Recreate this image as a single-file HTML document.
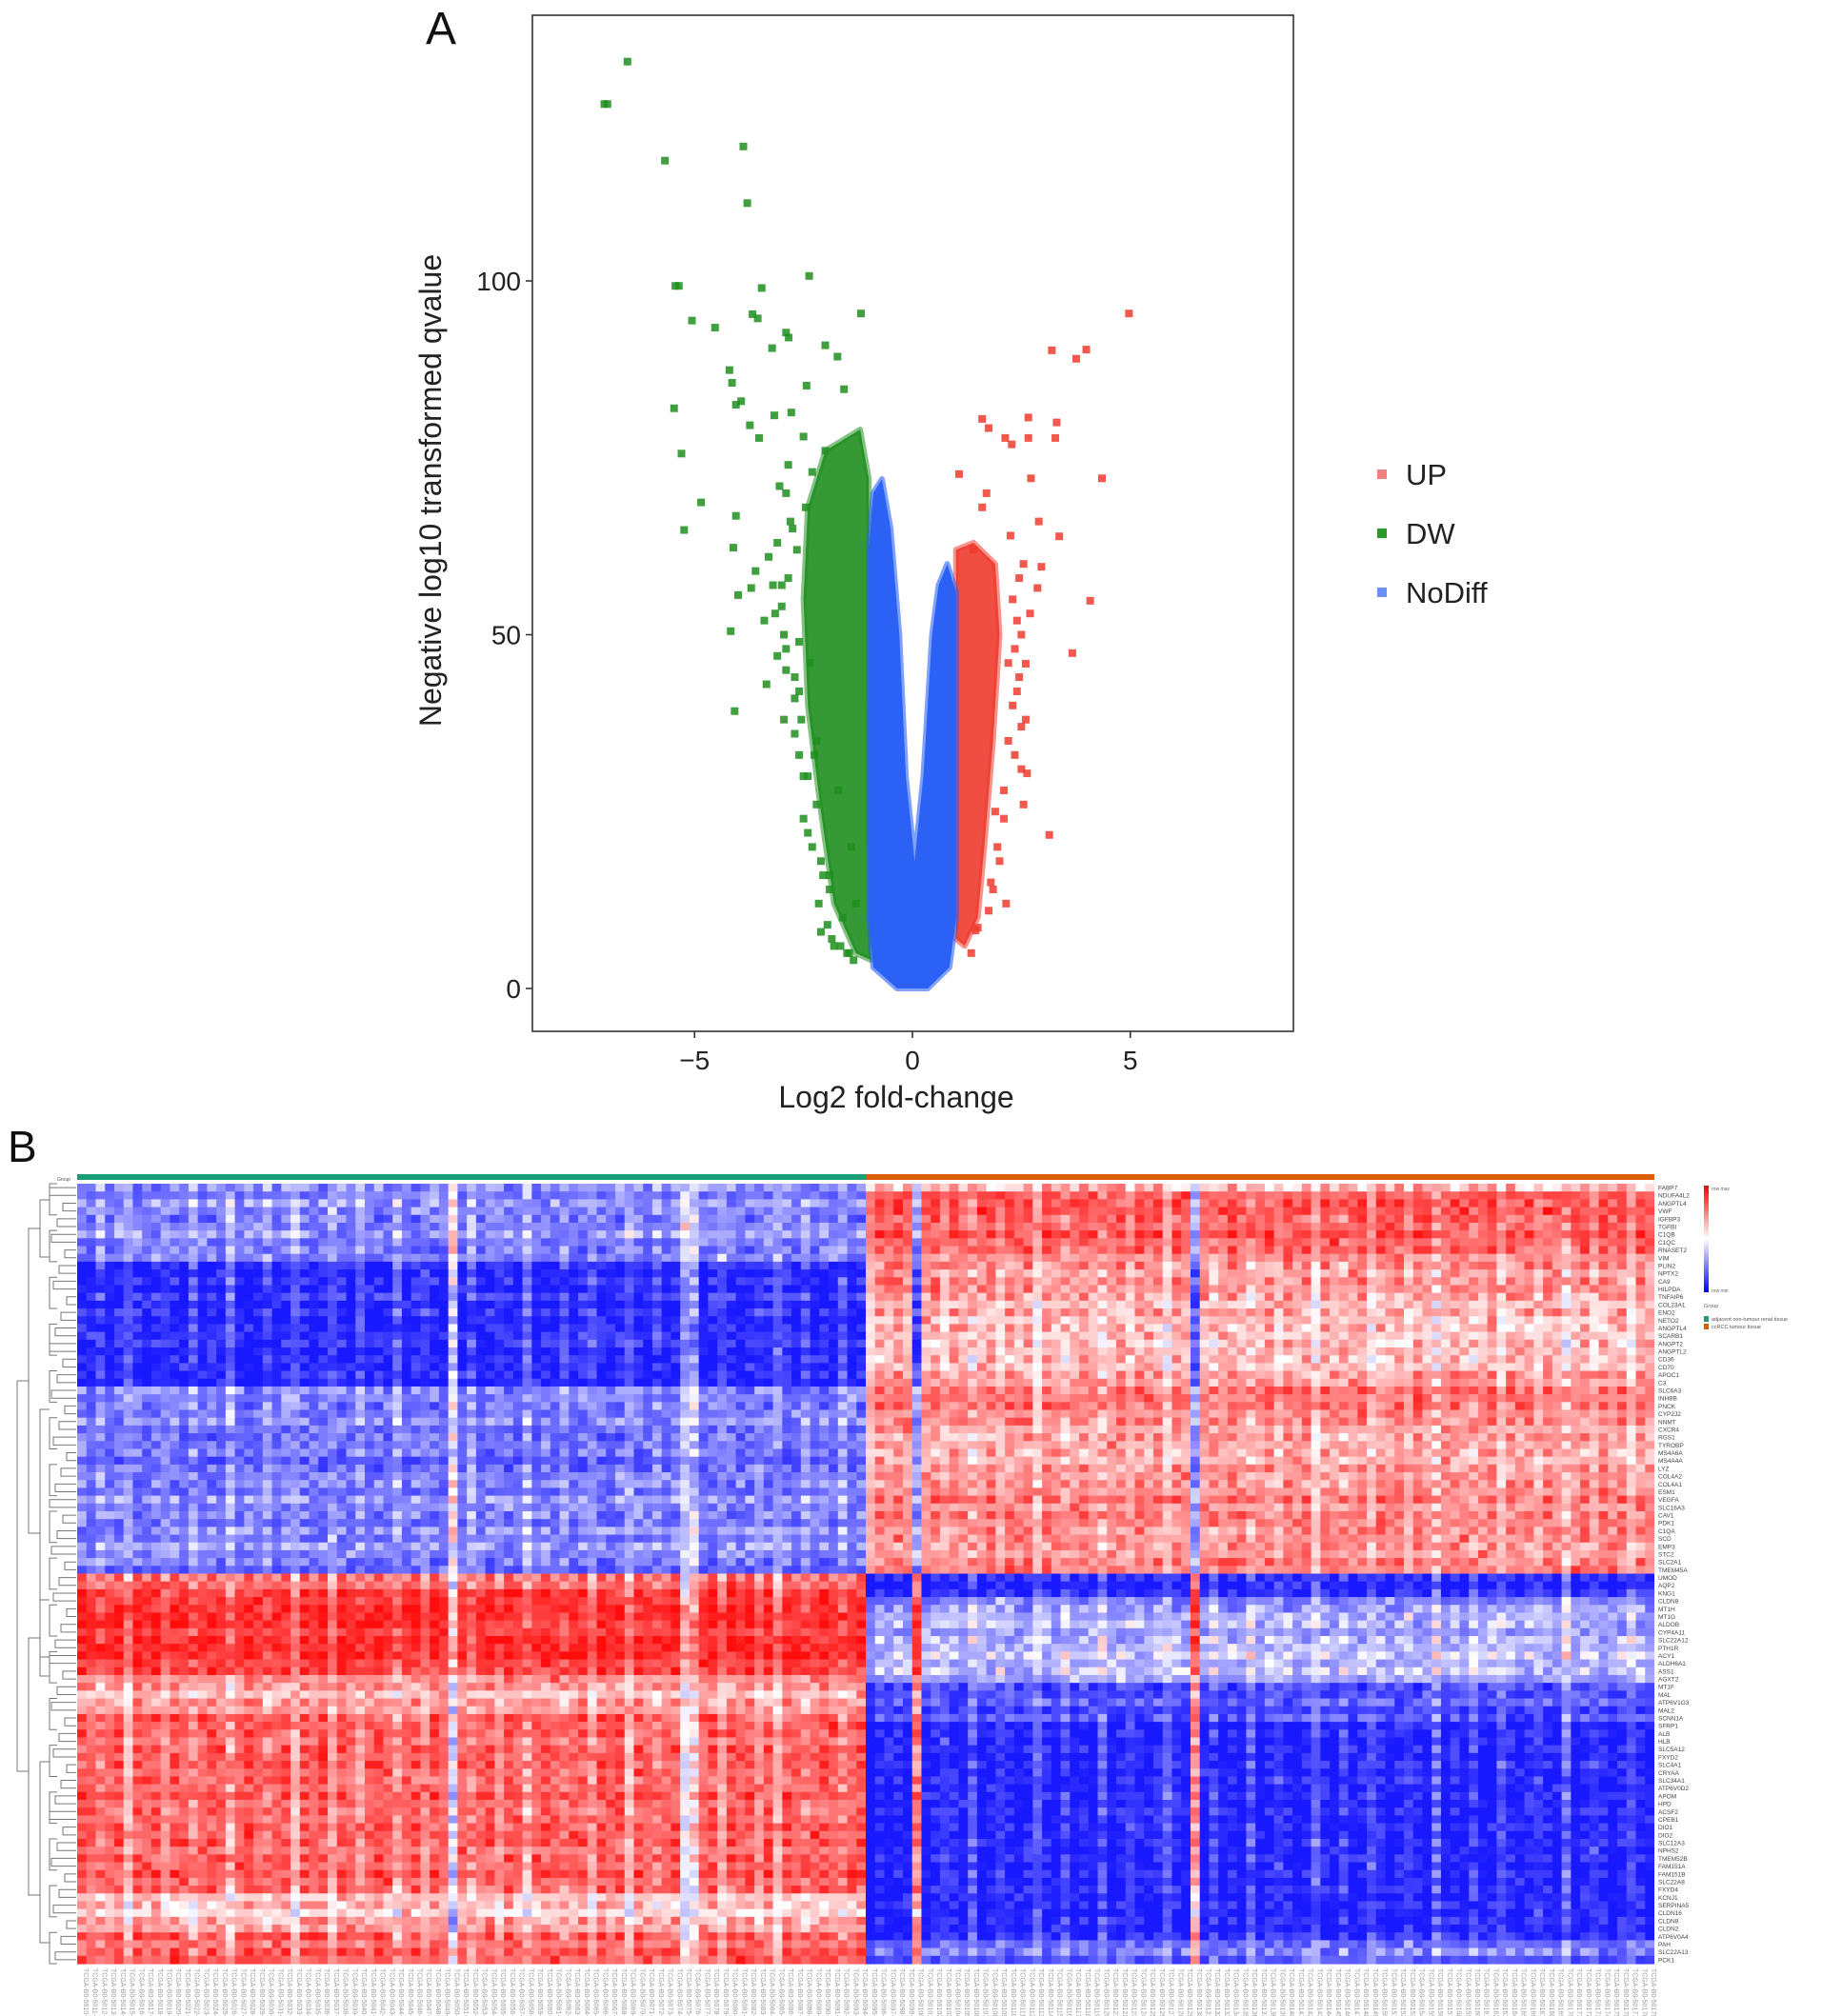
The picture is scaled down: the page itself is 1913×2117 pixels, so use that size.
<!DOCTYPE html>
<html><head><meta charset="utf-8">
<style>
html,body{margin:0;padding:0;background:#fff;}
svg{display:block;font-family:"Liberation Sans",Arial,sans-serif;}
</style></head>
<body>
<svg id="fig" width="1913" height="2117" viewBox="0 0 1913 2117" xmlns="http://www.w3.org/2000/svg">
<g id="volcano"></g>
<g id="heat"></g>
</svg>
<script>
// ===== Volcano data =====
const dwX = [-6.54,-7.07,-7.0,-5.68,-3.88,-3.79,-5.44,-5.36,-3.46,-2.37,-5.06,-4.53,-3.67,-3.55,-2.9,-2.84,-1.18,-5.47,-5.3,-4.85,-5.24,-4.2,-4.14,-4.05,-3.93,-3.22,-2.0,-1.72,-2.43,-1.57,-3.73,-3.17,-4.11,-4.0,-4.05,-4.08,-3.7,-3.52,-4.17,-2.78,-3.4,-3.1,-2.7,-2.95,-3.3,-2.6,-3.0,-2.5,-2.75,-2.2,-2.4,-2.9,-2.1,-1.9,-2.3,-1.6,-2.1,-1.8,-1.5,-1.4,-2.6,-2.2,-1.7,-1.3,-1.9,-3.35,-3.6,-2.85,
-2.9,-3.0,-2.7,-3.1,-2.85,-2.95,-2.6,-2.4,-2.5,-2.3,-2.55,-2.35,-2.15,-2.05,-1.95,-2.65,-2.45,-3.05,-2.8,-3.2,-2.7,-2.25,-1.85,-1.65,-1.45,-1.35,-2.0,-2.5,-3.15,-2.9];
const dwY = [131,125,125,117,119,111,99.3,99.3,99,100.7,94.4,93.4,95.3,94.7,92.7,92,95.4,82,75.6,68.7,64.8,87.4,85.6,82.5,83,90.5,90.9,89.3,85.2,84.7,79.6,81,62.3,55.6,66.8,39.2,56.6,77.8,50.5,81.4,52,47,44,38,61,33,57,30,65,26,22,70,18,14,73,10,8,6,5,20,49,35,28,12,16,43,59,74,
45,54,36,63,58,50,42,30,24,20,38,46,12,16,9,62,68,71,66,57,41,33,7,6,5,4,76,78,53,48];
const upX = [4.97,3.99,3.2,3.76,2.66,3.31,3.28,4.35,3.37,3.67,4.08,3.14,1.6,1.75,2.13,2.28,2.72,1.07,2.66,2.96,2.87,2.6,2.63,2.5,1.45,1.5,2.9,2.4,2.3,2.55,2.2,2.45,1.9,2.1,2.35,1.8,1.7,1.6,2.0,1.35,2.15,2.5,1.4,
2.3,2.5,2.4,2.2,2.6,2.7,2.35,2.1,1.95,2.45,2.55,1.85,1.75,2.25];
const upY = [95.4,90.3,90.2,89,80.7,80,77.8,72.1,63.9,47.4,54.8,21.7,80.5,79.2,77.8,76.9,72.1,72.7,77.8,59.6,56.6,45.9,30.4,31,8.2,8.6,66,52,40,60,35,44,25,28,48,15,70,68,18,5,12,37,62,
55,50,42,46,38,53,33,24,20,58,26,14,11,64];
const greenEnvX = [-0.95,-1.3,-1.8,-2.1,-2.4,-2.5,-2.4,-2.0,-1.2,-1.0];
const greenEnvY = [4,5,12,25,40,55,68,76,79,72];
const redEnvX = [1.0,1.2,1.5,1.65,1.85,2.0,1.9,1.4,1.0];
const redEnvY = [7,6,10,20,35,50,60,63,62];
const blueEnvX = [-0.35,-0.9,-1.0,-1.0,-1.0,-0.9,-0.7,-0.5,-0.3,-0.15,0.05,0.25,0.45,0.6,0.8,1.0,1.0,1.0,0.85,0.35];
const blueEnvY = [0,3,10,40,62,70,72,65,50,30,18,30,50,57,60,56,30,10,3,0];
const xTicks = [-5,0,5];
const yTicks = [0,50,100];
const legendLabels = ["UP","DW","NoDiff"];

// ===== Heatmap data =====
const geneNames = ["FABP7","NDUFA4L2","ANGPTL4","VWF","IGFBP3","TGFBI","C1QB","C1QC","RNASET2","VIM","PLIN2","NPTX2","CA9","HILPDA","TNFAIP6","COL23A1","ENO2","NETO2","ANGPTL4","SCARB1","ANGPT2","ANGPTL2","CD36","CD70","APOC1","C3","SLC6A3","INHBB","PNCK","CYP2J2","NNMT","CXCR4","RGS1","TYROBP","MS4A6A","MS4A4A","LYZ","COL4A2","COL4A1","ESM1","VEGFA","SLC16A3","CAV1","PDK1","C1QA","SCD","EMP3","STC2","SLC2A1","TMEM45A",
"UMOD","AQP2","KNG1","CLDN8","MT1H","MT1G","ALDOB","CYP4A11","SLC22A12","PTH1R","ACY1","ALDH6A1","ASS1","AGXT2","MT1F","MAL","ATP6V1G3","MAL2","SCNN1A","SFRP1","ALB","HLB","SLC5A12","FXYD2","SLC4A1","CRYAA","SLC34A1","ATP6V0D2","APOM","HPD","ACSF2","CPEB1","DIO1","DIO2","SLC12A3","NPHS2","TMEM52B","FAM151A","FAM151B","SLC22A8","FXYD4","KCNJ1","SERPINA5","CLDN16","CLDN8","CLDN2","ATP6V0A4","PAH","SLC22A13","PCK1"];
const rowNormal = [-0.5,-0.55,-0.45,-0.5,-0.6,-0.5,-0.45,-0.55,-0.6,-0.5,
-0.95,-0.95,-0.9,-0.95,-0.85,-0.95,-0.9,-0.95,-0.95,-0.85,-0.9,-0.95,-0.95,-0.9,-0.95,-0.95,
-0.55,-0.5,-0.6,-0.55,-0.5,-0.6,-0.65,-0.55,-0.6,
-0.7,-0.65,-0.5,-0.55,-0.6,-0.45,-0.5,-0.55,-0.6,-0.5,-0.55,-0.45,-0.5,-0.6,-0.65,
0.6,0.7,0.85,0.9,0.9,0.95,0.9,0.85,0.9,0.95,0.9,0.85,0.8,
0.55,0.45,0.35,0.45,0.5,
0.7,0.75,0.7,0.65,0.7,0.75,0.7,0.7,0.65,0.7,0.75,0.7,0.65,0.7,0.7,0.75,0.7,0.65,0.7,0.7,0.75,0.7,0.65,
0.35,0.3,0.25,0.4,0.5,0.7,0.65,0.7,0.75];
const rowTumor = [0.3,0.75,0.7,0.8,0.65,0.7,0.75,0.7,0.65,0.55,
0.5,0.45,0.5,0.55,0.4,0.35,0.4,0.35,0.3,0.35,0.3,0.4,0.3,0.35,0.45,0.5,
0.6,0.65,0.6,0.55,0.5,0.45,0.4,0.45,0.35,0.4,0.45,0.5,0.45,0.55,0.6,0.5,0.55,0.6,0.5,0.55,0.45,0.5,0.55,0.6,
-0.95,-0.95,-0.95,-0.5,-0.45,-0.3,-0.35,-0.4,-0.3,-0.25,-0.2,-0.3,-0.25,-0.35,
-0.8,-0.75,-0.7,-0.8,-0.75,
-0.95,-0.95,-0.95,-0.95,-0.95,-0.95,-0.95,-0.95,-0.95,-0.95,-0.95,-0.95,-0.95,-0.95,-0.95,-0.95,-0.95,-0.95,-0.95,-0.95,-0.95,-0.95,-0.95,-0.95,-0.95,-0.95,-0.95,-0.95,
-0.6,-0.55,-0.7];
const groupSizes = [85,85];
const colPurity = [1,1,0.9,1,1,0.8,1,1,1,0.9,1,1,0.85,1,1,1,0.8,1,1,1,0.9,1,1,0.8,1,1,1,0.85,1,1,0.9,1,1,1,0.8,1,1,0.9,1,1,0.45,1,0.85,1,1,0.9,1,1,0.8,1,1,1,0.9,1,1,0.85,1,1,1,0.8,1,1,0.9,1,1,0.6,0.65,1,1,0.85,1,1,1,0.9,1,0.8,1,1,0.9,1,1,1,0.85,1,1,
1,1,1,1,1,0.1,1,1,0.9,1,1,0.85,1,1,0.9,1,1,1,0.8,1,1,0.9,1,1,1,0.85,1,1,0.9,1,1,1,0.8,1,1,0.15,1,0.9,1,1,1,0.85,1,1,0.9,1,1,1,0.8,1,1,0.9,1,1,0.85,1,1,1,0.9,1,1,0.8,1,1,1,0.9,1,1,0.85,1,1,1,0.9,1,1,0.8,1,1,0.9,1,1,1,0.85,1,1,0.9,1,1];
const noiseDigits = "38271946058392716405829173649205817364928105739462817305948261739504826193748502917364820195738462917305826491738205648193";

// ===== Volcano drawing =====
const NS="http://www.w3.org/2000/svg";
function mk(tag,attrs,parent){const e=document.createElementNS(NS,tag);for(const k in attrs)e.setAttribute(k,attrs[k]);parent.appendChild(e);return e;}
const V=document.getElementById('volcano');
const px0=559,px1=1358,py0=16,py1=1083;
const xs=v=>958+v*45.75;
const ys=v=>1038-v*7.43;
let fr=mk('rect',{x:px0,y:py0,width:px1-px0,height:py1-py0,fill:'#fff',stroke:'#333','stroke-width':1.6},V);

function envPoly(ex,ey,col,name,op){
  const pts=ex.map((x,i)=>xs(x)+','+ys(ey[i])).join(' ');
  const p=mk('polygon',{points:pts,fill:col,'fill-opacity':op,stroke:col,'stroke-width':6,'stroke-opacity':op*0.6,'stroke-linejoin':'round'},V);
  
}
envPoly(greenEnvX,greenEnvY,'#1f8f1f','dw-dense-region',0.9);
envPoly(redEnvX,redEnvY,'#ee3b2f','up-dense-region',0.9);
function pts(X,Y,col,name){
  X.forEach((x,i)=>{const r=mk('rect',{x:xs(x)-4,y:ys(Y[i])-4,width:8,height:8,fill:col,'fill-opacity':0.85},V);
  });
}
pts(dwX,dwY,'#1f8f1f','dw-point');
pts(upX,upY,'#ee3b2f','up-point');
envPoly(blueEnvX,blueEnvY,'#2b62f5','nodiff-dense-region',1);
yTicks.forEach(t=>{const y=ys(t);
 let l=mk('line',{x1:px0-7,x2:px0,y1:y,y2:y,stroke:'#333','stroke-width':1.6},V);
 let tx=mk('text',{x:px0-12,y:y+10,'font-size':28,'text-anchor':'end',fill:'#222'},V);tx.textContent=t;});
xTicks.forEach(t=>{const x=xs(t);
 let l=mk('line',{x1:x,x2:x,y1:py1,y2:py1+7,stroke:'#333','stroke-width':1.6},V);
 let tx=mk('text',{x:x,y:py1+40,'font-size':28,'text-anchor':'middle',fill:'#222'},V);tx.textContent=(t<0?'\u2212'+(-t):t);});
let xt=mk('text',{x:941,y:1163,'font-size':32,'text-anchor':'middle',fill:'#222'},V);xt.textContent='Log2 fold-change';
let yt=mk('text',{x:0,y:0,'font-size':32,'text-anchor':'middle',fill:'#222',transform:'translate(463,515) rotate(-90)'},V);yt.textContent='Negative log10 transformed qvalue';
let pa=mk('text',{x:447,y:46,'font-size':48,fill:'#111'},V);pa.textContent='A';
const legCols=['#f08080','#2a9a2a','#6b8ff5'];
legendLabels.forEach((s,i)=>{const y=498+i*62;
 let k=mk('rect',{x:1446,y:y-5,width:10,height:10,fill:legCols[i]},V);
 let t=mk('text',{x:1476,y:y+11,'font-size':31,fill:'#222'},V);t.textContent=s;});

// ===== Heatmap drawing =====
const H=document.getElementById('heat');
const hx0=81,hx1=1737,hy0=1243,hy1=2062;
const nCols=groupSizes[0]+groupSizes[1], nRows=geneNames.length;
const cw=(hx1-hx0)/nCols, rh=(hy1-hy0)/nRows;
let pb=mk('text',{x:8,y:1220,'font-size':46,fill:'#111'},H);pb.textContent='B';
let g1=mk('rect',{x:hx0,y:1233,width:cw*groupSizes[0],height:6,fill:'#1b9e77'},H);
let g2=mk('rect',{x:hx0+cw*groupSizes[0],y:1233,width:cw*groupSizes[1],height:6,fill:'#d95f02'},H);
let gl=mk('text',{x:60,y:1240,'font-size':5,fill:'#555'},H);gl.textContent='Group';
function colr(v){v=Math.max(-1,Math.min(1,v));
 if(v<0){const t=-v;const c=Math.round(255*(1-t*0.9));return `rgb(${c},${c},255)`;}
 const c=Math.round(255*(1-v*0.95));return `rgb(255,${c},${c})`;}
for(let r=0;r<nRows;r++){
 for(let c=0;c<nCols;c++){
  const tum=c>=groupSizes[0];const p=(colPurity[c]===undefined)?1:colPurity[c];
  const base=tum?(rowTumor[r]*p+rowNormal[r]*(1-p)):(rowNormal[r]*p+rowTumor[r]*(1-p));
  const n=(parseInt(noiseDigits[(r*37+c*11+r*c)%noiseDigits.length])-4.5)/9*0.7;
  const w=(c===nCols-1)?cw:cw+0.6;
  const cell=mk('rect',{x:(hx0+c*cw).toFixed(2),y:(hy0+r*rh).toFixed(2),width:w.toFixed(2),height:(rh+0.6).toFixed(2),fill:colr(base+n*(1-Math.abs(base)*0.5))},H);
  
  
 }
}
geneNames.forEach((g,i)=>{let t=mk('text',{x:hx1+4,y:(hy0+i*rh+rh*0.8).toFixed(2),'font-size':6.5,fill:'#444'},H);t.textContent=g;
 });
for(let c=0;c<nCols;c++){const x=hx0+c*cw+cw*0.7;
 let t=mk('text',{x:0,y:0,'font-size':7,fill:'#999',transform:`translate(${x.toFixed(2)},2067) rotate(90)`},H);t.textContent='TCGA-B0-50'+(10+c)+'-01A';
 }
const defs=mk('defs',{},H);const lg=mk('linearGradient',{id:'ck',x1:0,y1:0,x2:0,y2:1},defs);
mk('stop',{offset:0,'stop-color':'#ff0000'},lg);mk('stop',{offset:0.5,'stop-color':'#ffffff'},lg);mk('stop',{offset:1,'stop-color':'#0000ff'},lg);
let ck=mk('rect',{x:1789,y:1245,width:5,height:112,fill:'url(#ck)'},H);
[['row max',1250],['row min',1357]].forEach(a=>{let t=mk('text',{x:1797,y:a[1],'font-size':5,fill:'#666'},H);t.textContent=a[0];});
let gt=mk('text',{x:1789,y:1373,'font-size':5.5,fill:'#666'},H);gt.textContent='Group';
[['adjacent non-tumour renal tissue','#1b9e77',1387],['ccRCC tumour tissue','#d95f02',1395]].forEach(a=>{
 let k=mk('rect',{x:1789,y:a[2]-5,width:5,height:6,fill:a[1]},H);
 let t=mk('text',{x:1797,y:a[2],'font-size':5.5,fill:'#555'},H);t.textContent=a[0];});
const dg=mk('g',{stroke:'#777','stroke-width':1,fill:'none'},H);
function br(x,y1,y2,xr){mk('path',{d:`M${xr},${y1} H${x} V${y2} H${xr}`},dg);}
br(18,1450,1860,30);br(30,1290,1610,42);br(30,1720,1990,42);
br(42,1260,1320,52);br(42,1480,1740,52);br(42,1680,1760,52);br(42,1850,2040,52);
for(let i=0;i<100;i+=2){const y=hy0+i*rh+rh;const x=52+((i*7)%20);br(x,y-rh*0.5,y+rh*0.5,80);}
for(let i=0;i<100;i+=6){const y=hy0+i*rh+rh*2;br(52,y-rh*2,y+rh*2,60);}
</script>
</body></html>
